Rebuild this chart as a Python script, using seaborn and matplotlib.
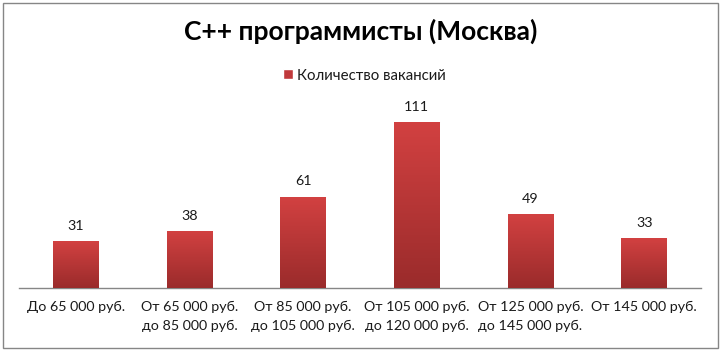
import matplotlib
matplotlib.use("Agg")
import matplotlib.pyplot as plt
import seaborn as sns
import numpy as np
import pandas as pd
from matplotlib.patches import Rectangle, Patch
from matplotlib.colors import LinearSegmentedColormap

title = "С++ программисты (Москва)"
series_name = "Количество вакансий"
categories = [
    "До 65 000 руб.",
    "От 65 000 руб.\nдо 85 000 руб.",
    "От 85 000 руб.\nдо 105 000 руб.",
    "От 105 000 руб.\nдо 120 000 руб.",
    "От 125 000 руб.\nдо 145 000 руб.",
    "От 145 000 руб.",
]
values = [31, 38, 61, 111, 49, 33]

sns.set_theme(style="white")
FONT = ['Lato', 'DejaVu Sans']
plt.rcParams['font.family'] = FONT

W, H = 721, 351
fig = plt.figure(figsize=(W / 100, H / 100), dpi=100)
fig.patch.set_facecolor("white")
ax = fig.add_axes([19 / W, 1 - 288 / H, 682 / W, (288 - 109) / H])

df = pd.DataFrame({"cat": categories, "val": values})
sns.barplot(data=df, x="cat", y="val", color="#c0393b", width=0.4,
            saturation=1, ax=ax, zorder=2)

# gradient overlay on each bar
cmap = LinearSegmentedColormap.from_list("g", ["#9a2b2b", "#d24141"])
grad = np.linspace(0, 1, 256).reshape(-1, 1)
for p in ax.patches:
    x0, y0 = p.get_x(), p.get_y()
    w, h = p.get_width(), p.get_height()
    ax.imshow(grad, extent=[x0, x0 + w, y0, y0 + h], origin="lower",
              cmap=cmap, aspect="auto", zorder=3, interpolation="bilinear")

ax.bar_label(ax.containers[0], padding=7, fontsize=10.3, color="#1a1a1a",
             family=FONT)

ax.set_xlim(-0.5, len(categories) - 0.5)
ax.set_ylim(0, 120)
ax.set_xlabel("")
ax.set_ylabel("")
ax.set_yticks([])
for s in ["top", "left", "right"]:
    ax.spines[s].set_visible(False)
ax.spines["bottom"].set_color("#868686")
ax.spines["bottom"].set_linewidth(1.0)
ax.tick_params(axis="x", length=0, pad=9.5, labelsize=10.3, labelcolor="#1a1a1a")
for t in ax.get_xticklabels():
    t.set_linespacing(1.6)
    t.set_family(FONT)

fig.text(0.5, 1 - 40 / H, title, ha="center", va="baseline",
         fontsize=19, fontweight="bold", color="black", family=FONT)

fig.legend(handles=[Patch(facecolor="#c0393b")], labels=[series_name],
           loc="center", bbox_to_anchor=(364.5 / W, 1 - 75.5 / H),
           frameon=False, handlelength=0.65, handleheight=0.65,
           handletextpad=0.3, fontsize=10.8, labelcolor="#1a1a1a")

fig.patches.append(Rectangle((2.5 / W, 1 - 347.5 / H), (718 - 2.5) / W,
                             (347.5 - 2.5) / H, transform=fig.transFigure,
                             fill=False, edgecolor="#868686", linewidth=1.0))

fig.savefig("out.png", dpi=100)
